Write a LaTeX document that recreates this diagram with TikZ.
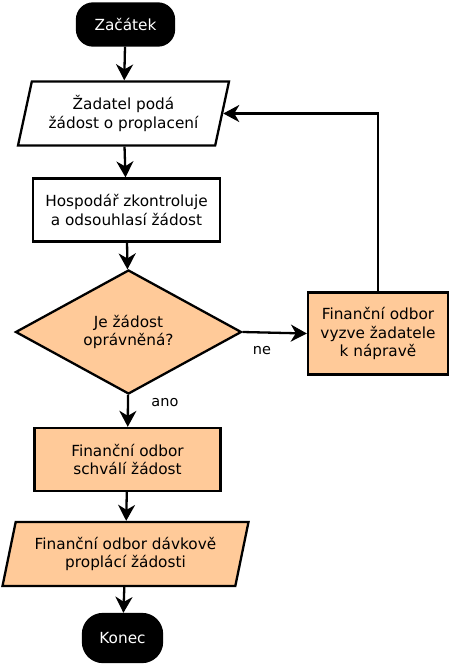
\documentclass[tikz,border=0pt]{standalone}
\usepackage{fontspec}
\setmainfont{DejaVu Sans}
\usetikzlibrary{shapes.geometric, arrows.meta}

\definecolor{peach}{HTML}{FFCA99}

\begin{document}
\begin{tikzpicture}[
    x=1pt, y=-1pt,
    every node/.style={font=\fontsize{15.3}{18.5}\selectfont, align=center},
    >={Stealth[length=16pt, width=17pt, inset=5pt]},
    flow/.style={->, line width=2.3pt},
    terminal/.style={draw=black, fill=black, text=white, line width=2.3pt, rounded corners=16pt},
    io/.style={trapezium, trapezium left angle=72, trapezium right angle=108,
        trapezium stretches body, draw, line width=2.3pt},
    process/.style={rectangle, draw, line width=2.3pt},
    decision/.style={diamond, draw, line width=2.3pt, fill=peach, inner sep=0pt},
    answer/.style={font=\fontsize{14.5}{17}\selectfont},
]

% === Page frame ===
\useasboundingbox (0,0) rectangle (450,664);

% === Nodes ===
\node[terminal, minimum width=97, minimum height=42] (start) at (125.5,24.5) {Začátek};
\node[io, minimum width=211, minimum height=64] (request) at (123.5,113.5)
    {Žadatel podá\\žádost o proplacení};
\node[process, minimum width=187, minimum height=63] (check) at (126.5,210)
    {Hospodář zkontroluje\\a odsouhlasí žádost};
\node[decision, minimum width=226, minimum height=122] (valid) at (128.5,332)
    {Je žádost\\oprávněná?};
\node[process, fill=peach, minimum width=140, minimum height=82] (fix) at (378,333.5)
    {Finanční odbor\\vyzve žadatele\\k nápravě};
\node[process, fill=peach, minimum width=186, minimum height=63] (approve) at (127.5,459.5)
    {Finanční odbor\\schválí žádost};
\node[io, fill=peach, minimum width=246, minimum height=64] (pay) at (125.5,554)
    {Finanční odbor dávkově\\proplácí žádosti};
\node[terminal, minimum width=79, minimum height=48, rounded corners=20pt] (finish) at (122.5,638)
    {Konec};

% === Connectors ===
\draw[flow] (start) -- (request);
\draw[flow] (request) -- (check);
\draw[flow] (check) -- (valid);
\draw[flow] (valid) -- node[answer, right, pos=0.25, xshift=19pt] {ano} (approve);
\draw[flow] (valid.east) -- node[answer, below, pos=0.3, yshift=-9pt] {ne} (fix.west);
\draw[flow] (fix.north) |- (request.east);
\draw[flow] (approve) -- (pay);
\draw[flow] (pay) -- (finish);

\end{tikzpicture}
\end{document}
